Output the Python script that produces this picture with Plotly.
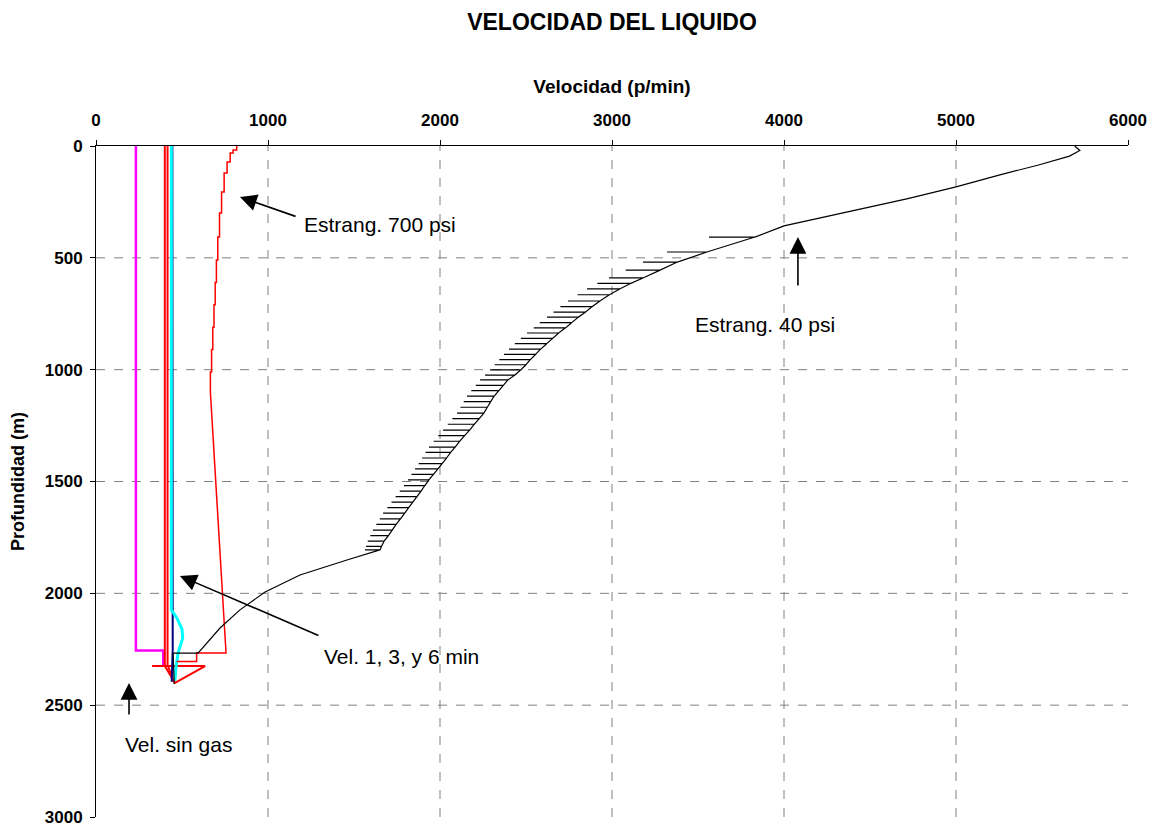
import plotly.graph_objects as go

# ---------------- data ----------------
# Velocity without gas (magenta)
sin_gas_v = [232, 232, 391, 391]
sin_gas_d = [0, 2256, 2256, 2325]

# Velocity after 1 min (red, with the small triangle at the bottom)
vel1_v = [400, 400, 326, 634, 459, 400]
vel1_d = [0, 2325, 2325, 2325, 2400, 2325]

# Velocity after 3 min (red)
vel3_v = [416, 416, 455]
vel3_d = [0, 2320, 2400]

# Velocity after 6 min (navy, mostly hidden under cyan)
vel6_v = [444, 444, 446, 440]
vel6_d = [0, 2074, 2250, 2395]

# cyan
velc_v = [438, 438, 470, 500, 504, 490, 477, 465, 459]
velc_d = [0, 2074, 2110, 2160, 2200, 2240, 2267, 2330, 2390]

# Choke 700 psi (thin red, stepped)
e700_v = [818, 818, 797, 797, 780, 780, 762, 762, 745, 745, 730, 730, 718, 718,
          708, 708, 700, 700, 693, 693, 686, 686, 679, 679, 672, 672, 665, 665,
          756, 585, 585, 469]
e700_d = [0, 18, 18, 31, 31, 72, 72, 121, 121, 206, 206, 300, 300, 407,
          407, 510, 510, 610, 610, 710, 710, 810, 810, 910, 910, 1010, 1010, 1100,
          2267, 2267, 2305, 2305]

# Choke 40 psi (black): smooth top part
e40_top_v = [5690, 5720, 5660, 5480, 5250, 5000, 4720, 4400, 4000]
e40_top_d = [0, 20, 45, 85, 130, 183, 235, 290, 357]

# Choke 40 psi: saw-tooth band (depth, left end, right end of each step)
e40_step_d = [407, 474, 519, 555, 590, 614, 639, 665, 693, 718, 743, 765, 790,
              813, 836, 860, 884, 908, 932, 955, 978, 1001, 1024, 1046, 1070,
              1094, 1118, 1143, 1168, 1194, 1219, 1244, 1270, 1295, 1320, 1346,
              1370, 1395, 1420, 1444, 1468, 1493, 1518, 1543, 1568, 1592, 1617,
              1641, 1667, 1692, 1717, 1742, 1767, 1790, 1806]
e40_step_l = [3564, 3320, 3180, 3080, 2983, 2915, 2855, 2800, 2744, 2700, 2660,
              2622, 2580, 2545, 2506, 2470, 2435, 2401, 2372, 2345, 2318, 2291,
              2262, 2233, 2208, 2182, 2157, 2138, 2119, 2099, 2072, 2045, 2018,
              1990, 1963, 1936, 1916, 1896, 1876, 1855, 1834, 1814, 1790, 1766,
              1742, 1718, 1694, 1669, 1650, 1630, 1610, 1595, 1580, 1570, 1564]
e40_step_r = [3831, 3552, 3380, 3280, 3180, 3110, 3045, 2985, 2930, 2885, 2845,
              2805, 2765, 2730, 2690, 2655, 2620, 2585, 2555, 2525, 2500, 2470,
              2435, 2395, 2368, 2342, 2315, 2295, 2275, 2255, 2228, 2200, 2172,
              2143, 2115, 2088, 2062, 2038, 2012, 1988, 1962, 1935, 1912, 1890,
              1866, 1842, 1818, 1795, 1770, 1745, 1722, 1700, 1675, 1660, 1651]

# Choke 40 psi: lower part
e40_low_v = [1459, 1186, 983, 837, 721, 634, 593, 448, 455]
e40_low_d = [1851, 1918, 1994, 2074, 2155, 2231, 2267, 2267, 2405]

x_ticks = [0, 1000, 2000, 3000, 4000, 5000, 6000]
y_ticks = [0, 500, 1000, 1500, 2000, 2500, 3000]
x_grid = [1000, 2000, 3000, 4000, 5000]
y_grid = [500, 1000, 1500, 2000, 2500]

# ---------------- build the black series ----------------
e40_v = list(e40_top_v)
e40_d = list(e40_top_d)
for d, l, r in zip(e40_step_d, e40_step_l, e40_step_r):
    e40_v += [r, l, r]
    e40_d += [d, d, d]
e40_v += e40_low_v
e40_d += e40_low_d

FONT = "Liberation Sans, Arial, sans-serif"

# page has an 8px body margin: the figure is sized to fill the rest
W, H = 1152, 818

fig = go.Figure()


def add_line(v, d, color, width):
    fig.add_trace(go.Scatter(x=v, y=d, mode="lines",
                             line=dict(color=color, width=width),
                             hoverinfo="skip", showlegend=False))


add_line(sin_gas_v, sin_gas_d, "#FF00FF", 2.5)
add_line(vel1_v, vel1_d, "#FF0000", 2)
add_line(vel3_v, vel3_d, "#FF0000", 2)
add_line(vel6_v, vel6_d, "#000080", 2)
add_line(velc_v, velc_d, "#00FFFF", 3)
add_line(e700_v, e700_d, "#FF0000", 1.5)
add_line(e40_v, e40_d, "#000000", 1.2)

# dashed grid lines (none at the far edges, like the reference)
for gx in x_grid:
    fig.add_shape(type="line", xref="x", yref="paper", x0=gx, x1=gx, y0=0, y1=1,
                  line=dict(color="#808080", width=1, dash="dash"), layer="below")
for gy in y_grid:
    fig.add_shape(type="line", xref="paper", yref="y", x0=0, x1=1, y0=gy, y1=gy,
                  line=dict(color="#808080", width=1, dash="dash"), layer="below")

annots = [
    # (text, text_x, text_y, tip_x, tip_y, tail_x, tail_y)
    ("Estrang. 700 psi", 1198, 353, 837, 228, 1169, 317),
    ("Estrang. 40 psi", 3471, 800, 4081, 407, 4081, 630),
    ("Vel. 1, 3, y 6 min", 1314, 2284, 488, 1922, 1302, 2191),
    ("Vel. sin gas", 157, 2678, 192, 2401, 192, 2548),
]
for text, tx, ty, hx, hy, ax, ay in annots:
    fig.add_annotation(x=tx, y=ty, xref="x", yref="y", text=text,
                       showarrow=False, xanchor="left", yanchor="middle",
                       font=dict(family=FONT, size=21, color="black"))
    fig.add_annotation(x=hx, y=hy, ax=ax, ay=ay, xref="x", yref="y",
                       axref="x", ayref="y", text="", showarrow=True,
                       arrowhead=2, arrowsize=2.1, arrowwidth=1.6,
                       arrowcolor="black")

fig.update_layout(
    width=W, height=H,
    paper_bgcolor="white", plot_bgcolor="white",
    margin=dict(l=88, r=32, t=138, b=9, autoexpand=False),
    font=dict(family=FONT, color="black"),
    title=dict(text="<b>VELOCIDAD DEL LIQUIDO</b>", x=604 / W, xanchor="center",
               y=1 - 14 / H, yanchor="middle",
               font=dict(family=FONT, size=23, color="black")),
)

fig.update_xaxes(
    side="top", range=[0, 6000], tickvals=x_ticks, automargin=False,
    showline=True, linecolor="black", linewidth=1,
    ticks="outside", ticklen=5, tickcolor="black",
    tickfont=dict(family=FONT, size=17, color="black", weight="bold"),
    ticklabelstandoff=7, ticklabeloverflow="allow",
    showgrid=False, zeroline=False,
    title=dict(text="<b>Velocidad (p/min)</b>", standoff=12,
               font=dict(family=FONT, size=19, color="black")),
)
fig.update_yaxes(
    range=[3000, 0], tickvals=y_ticks, automargin=False,
    showline=True, linecolor="black", linewidth=1,
    ticks="outside", ticklen=5, tickcolor="black",
    tickfont=dict(family=FONT, size=17, color="black", weight="bold"),
    ticklabelstandoff=4, ticklabeloverflow="allow",
    showgrid=False, zeroline=False,
    title=dict(text="<b>Profundidad (m)</b>", standoff=16,
               font=dict(family=FONT, size=18, color="black")),
)

fig.write_html("out.html")
